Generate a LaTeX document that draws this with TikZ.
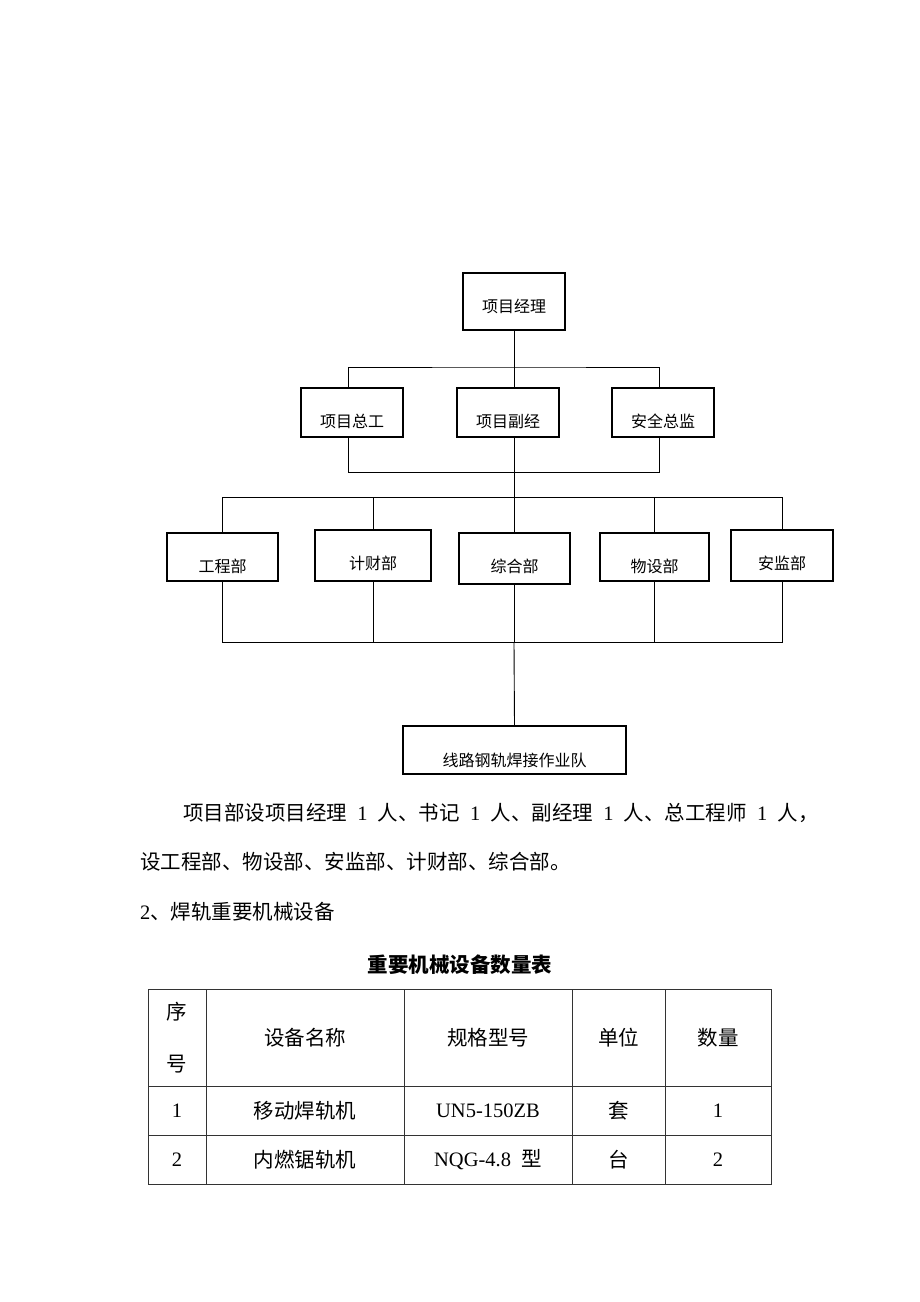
\documentclass[tikz,border=0pt]{standalone}
\usepackage{fontspec}
\setmainfont{Noto Sans CJK SC}
\newfontfamily\latinfont{Liberation Serif}
\usetikzlibrary{positioning}
\def\linecolor{black}
\def\tablecolor{black!80}
\def\bodysize{20.5}
\newcommand{\hw}[1]{{\latinfont #1}}% latin text and digits
\newcommand{\tabrow}[7]{% #1 row name, #2 row y, then the five cells
  \node[cell] (No#1)   at (177,#2)   {#3};
  \node[cell] (Name#1) at (305,#2)   {#4};
  \node[cell] (Spec#1) at (488,#2)   {#5};
  \node[cell] (Unit#1) at (618.5,#2) {#6};
  \node[cell] (Qty#1)  at (718,#2)   {#7};
}

\begin{document}
\begin{tikzpicture}[x=1pt,y=-1pt,
    orgbox/.style n args={3}{
        draw=\linecolor,
        line width=1.2pt,
        inner sep=0pt,
        minimum width=#1,
        minimum height=#2,
        text height=#3,
        text depth=0pt,
        font=\fontsize{16}{18}\selectfont
      },
    link/.style={draw=\linecolor, line width=0.9pt},
    body/.style={anchor=west, inner sep=0pt, font=\fontsize{\bodysize}{24}\selectfont},
    cell/.style={inner sep=0pt, align=center, font=\fontsize{\bodysize}{52}\selectfont},
    grid/.style={draw=\tablecolor, line width=0.9pt}]
  \useasboundingbox (0,0) rectangle (920,1302);

  % top and second row
  \node[orgbox={102pt}{57pt}{21pt}] (Manager) at (514,301.5) {项目经理};
  \node[orgbox={102pt}{49pt}{29pt}] (Chief)   at (352,412.5) {项目总工};
  \node[orgbox={102pt}{49pt}{29pt}] (Deputy)  at (508,412.5) {项目副经};
  \node[orgbox={102pt}{49pt}{29pt}] (Safety)  at (663,412.5) {安全总监};

  \coordinate (TopBus) at (514,367);
  \coordinate (MidBus) at (514,497);
  \coordinate (LowBus) at (514,642);

  \draw[link] (Manager.south) -- (Manager.south |- Deputy.north);
  \draw[link] ([xshift=-4pt]Chief.north) |- (TopBus) -| ([xshift=-4pt]Safety.north);
  \draw[link] ([xshift=-4pt]Chief.south) -- ++(0,35) -| ([xshift=-4pt]Safety.south);
  \draw[link] (Manager.south |- Deputy.south) -- (MidBus);

  % departments
  \node[orgbox={111pt}{48pt}{30pt}] (Eng) at (222.5,557)   {工程部};
  \node[orgbox={116pt}{51pt}{27pt}] (Fin) at (373,555.5)   {计财部};
  \node[orgbox={111pt}{51pt}{27pt}] (Gen) at (514.5,558.5) {综合部};
  \node[orgbox={109pt}{48pt}{30pt}] (Mat) at (654.5,557)   {物设部};
  \node[orgbox={102pt}{51pt}{27pt}] (Sup) at (782,555.5)   {安监部};

  \foreach \d in {Eng,Fin,Gen,Mat,Sup}{
    \draw[link] (\d.north) |- (MidBus);
    \draw[link] (\d.south) |- (LowBus);
  }

  % welding team
  \node[orgbox={223pt}{48pt}{32pt}] (Team) at (514.5,750) {线路钢轨焊接作业队};
  \draw[link] (LowBus) -- (Team.north);

  % text below the chart
  \node[body] (Para1) at (183,813) {项目部设项目经理\enspace\hw{1}\enspace 人、书记\enspace\hw{1}\enspace 人、副经理\enspace\hw{1}\enspace 人、总工程师\enspace\hw{1}\enspace 人，};
  \node[body] (Para2) at (140,862) {设工程部、物设部、安监部、计财部、综合部。};
  \node[body] (Para3) at (140,912) {\hw{2}、焊轨重要机械设备};
  \node[font=\bfseries\fontsize{\bodysize}{24}\selectfont] (Title) at (460,965) {重要机械设备数量表};

  % table
  \draw[grid] (148,989) rectangle (771,1184);
  \foreach \x in {206,404,572,665} \draw[grid] (\x,989) -- (\x,1184);
  \foreach \y in {1086,1135} \draw[grid] (148,\y) -- (771,\y);

  \tabrow{Head}{1038}{序\\号}{设备名称}{规格型号}{单位}{数量}
  \tabrow{One}{1110.5}{\hw{1}}{移动焊轨机}{\hw{UN5-150ZB}}{套}{\hw{1}}
  \tabrow{Two}{1159.5}{\hw{2}}{内燃锯轨机}{\hw{NQG-4.8}\enspace 型}{台}{\hw{2}}

\end{tikzpicture}
\end{document}
